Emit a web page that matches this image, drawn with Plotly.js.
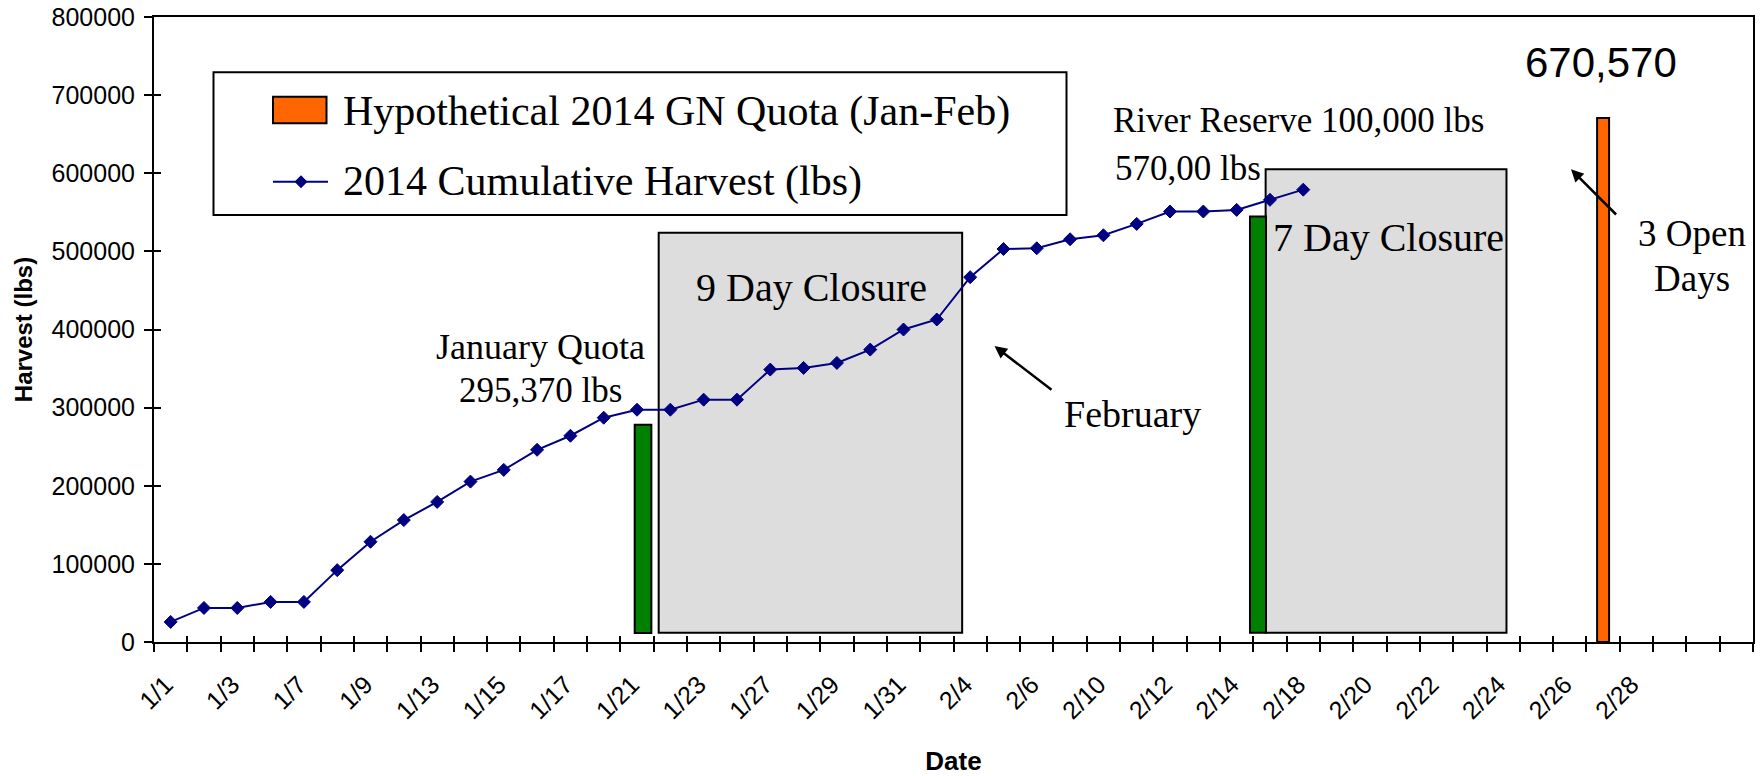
<!DOCTYPE html>
<html><head><meta charset="utf-8">
<script src="https://cdn.plot.ly/plotly-3.0.1.min.js"></script>
<style>html,body{margin:0;padding:0;background:#fff}#chart{width:1762px;height:776px}</style>
</head><body><div id="chart"></div>
<script>
// ---- data ----
const dates = ['1/1','1/2','1/3','1/6','1/7','1/8','1/9','1/10','1/13','1/14','1/15','1/16','1/17','1/20','1/21','1/22','1/23','1/24','1/27','1/28','1/29','1/30','1/31','2/3','2/4','2/5','2/6','2/7','2/10','2/11','2/12','2/13','2/14','2/17','2/18','2/19','2/20','2/21','2/22','2/23','2/24','2/25','2/26','2/27','2/28','3/1','3/2','3/3'];
const tickLabels = ['1/1','','1/3','','1/7','','1/9','','1/13','','1/15','','1/17','','1/21','','1/23','','1/27','','1/29','','1/31','','2/4','','2/6','','2/10','','2/12','','2/14','','2/18','','2/20','','2/22','','2/24','','2/26','','2/28','','','',''];
const harvestDates = dates.slice(0, 35);
const harvestValues = [25700,43600,43600,51300,51300,92000,128300,156100,179300,205300,220300,246000,264000,287100,297300,297300,310200,310200,348700,350800,357200,374300,400000,412800,467000,503000,504000,515500,520600,535200,551000,551000,553100,566000,579000];
const quotaDates = ['2/27'];
const quotaValues = [670570];
const seriesNames = ['Hypothetical 2014 GN Quota (Jan-Feb)', '2014 Cumulative Harvest (lbs)'];

// ---- geometry helpers (plot area in pixels) ----
const L = 154, R = 1753, T = 17, B = 642;
const W = R - L, H = B - T;
const px = X => (X - L) / W;
const py = Y => (B - Y) / H;

const NAVY = '#000080', ORANGE = '#FF6600', GREEN = '#008000', GRAY = '#DDDDDD';
const serif = 'Liberation Serif';
const sans = 'Liberation Sans';

const traces = [
  {type:'scatter', x: dates, y: dates.map(() => null), mode:'markers', marker:{opacity:0},
   hoverinfo:'skip', showlegend:false},
  {type:'scatter', x: dates, y: dates.map(() => null), mode:'markers', marker:{opacity:0},
   hoverinfo:'skip', showlegend:false, xaxis:'x2', yaxis:'y2'},
  {type:'bar', name: seriesNames[0], x: quotaDates, y: quotaValues, width: 0.36,
   marker:{color: ORANGE, line:{color:'#000', width:2}}, showlegend:false},
  {type:'scatter', name: seriesNames[1], x: harvestDates, y: harvestValues, mode:'lines+markers',
   line:{color: NAVY, width:2}, marker:{symbol:'diamond', size:10, color: NAVY, line:{color:NAVY, width:1}}, showlegend:false}
];

const txt = (text, X, Y, size, opts) => Object.assign({
  text, xref:'paper', yref:'paper', x: px(X), y: py(Y), xanchor:'center', yanchor:'middle',
  showarrow:false, font:{family: serif, size, color:'#000'}
}, opts || {});

const arrow = (hx, hy, tx, ty) => ({
  text:'', xref:'paper', yref:'paper', x: px(hx), y: py(hy), ax: tx - hx, ay: ty - hy,
  showarrow:true, arrowhead:2, arrowsize:1, arrowwidth:2.5, arrowcolor:'#000', standoff:0, startstandoff:0
});

const annotations = [
  txt('9 Day Closure', 811, 287, 40),
  txt('7 Day Closure', 1388, 237, 40),
  txt('January Quota', 540, 346.5, 36),
  txt('295,370 lbs', 540.5, 390, 35),
  txt('River Reserve 100,000 lbs', 1111, 120.5, 35, {xanchor:'left'}),
  txt('570,00 lbs', 1113, 168.8, 35, {xanchor:'left'}),
  txt('670,570', 1601, 62.6, 42, {font:{family: sans, size:42, color:'#000'}}),
  txt('3 Open', 1692, 233, 37),
  txt('Days', 1692, 278, 37),
  txt('February', 1132, 414, 38),
  arrow(994.5, 346, 1053, 391),
  arrow(1571, 169.3, 1617.6, 216),
  // legend texts
  txt(seriesNames[0], 340.6, 111.6, 42, {xanchor:'left'}),
  txt(seriesNames[1], 340.6, 181.6, 42, {xanchor:'left'})
];

const d = 6.5;
const shapes = [
  // closure boxes & quota markers (drawn objects)
  {type:'rect', xref:'x', yref:'y', x0:14.65, x1:23.76, y0:12000, y1:524000, fillcolor:GRAY, line:{color:'#000', width:2}, layer:'below'},
  {type:'rect', xref:'x', yref:'y', x0:13.93, x1:14.43, y0:11500, y1:278000, fillcolor:GREEN, line:{color:'#000', width:2}, layer:'below'},
  {type:'rect', xref:'x', yref:'y', x0:32.87, x1:40.1, y0:12000, y1:605200, fillcolor:GRAY, line:{color:'#000', width:2}, layer:'below'},
  {type:'rect', xref:'x', yref:'y', x0:32.40, x1:32.88, y0:12000, y1:544600, fillcolor:GREEN, line:{color:'#000', width:2}, layer:'below'},
  // legend box
  {type:'rect', xref:'paper', yref:'paper', x0:px(213.5), x1:px(1066.5), y0:py(215), y1:py(72.3), fillcolor:'#fff', line:{color:'#000', width:2}},
  {type:'rect', xref:'paper', yref:'paper', x0:px(273), x1:px(326.5), y0:py(123.3), y1:py(96.7), fillcolor:ORANGE, line:{color:'#000', width:2}},
  {type:'line', xref:'paper', yref:'paper', x0:px(273), x1:px(328), y0:py(181.7), y1:py(181.7), line:{color:NAVY, width:2}},
  {type:'path', xref:'paper', yref:'paper',
   path:`M ${px(301-d)},${py(181.7)} L ${px(301)},${py(181.7-d)} L ${px(301+d)},${py(181.7)} L ${px(301)},${py(181.7+d)} Z`,
   fillcolor:NAVY, line:{color:NAVY, width:0}}
];

const layout = {
  width:1762, height:776, paper_bgcolor:'#fff', plot_bgcolor:'#fff',
  margin:{l:L, r:1762-R, t:T, b:776-B, pad:0},
  showlegend:false, barmode:'overlay',
  xaxis:{type:'category', categoryorder:'array', categoryarray:dates, range:[-0.5,47.5],
    tickmode:'array', tickvals:dates, ticktext:tickLabels, tickson:'boundaries',
    ticks:'outside', ticklen:8, tickwidth:2, tickcolor:'#000', tickangle:-45,
    ticklabelstandoff:16, ticklabelshift:-5,
    tickfont:{family: sans, size: 25, color:'#000'},
    showline:true, linecolor:'#000', linewidth:2, mirror:true, showgrid:false, zeroline:false,
    title:{text:'Date', font:{family:sans, size:26, color:'#000', weight:'bold'}, standoff:42}},
  yaxis:{range:[0,800000], tick0:0, dtick:100000, tickformat:'d',
    ticks:'outside', ticklen:8, tickwidth:2, tickcolor:'#000', ticklabelstandoff:4,
    tickfont:{family:sans, size:25, color:'#000'},
    showline:true, linecolor:'#000', linewidth:2, mirror:true, showgrid:false, zeroline:false,
    title:{text:'Harvest (lbs)', font:{family:sans, size:24, color:'#000', weight:'bold'}, standoff:12}},
  xaxis2:{type:'category', categoryorder:'array', categoryarray:dates, range:[-0.5,47.5],
    overlaying:'x', anchor:'y2', side:'bottom',
    tickmode:'array', tickvals:dates, ticktext:dates.map(() => ''), tickson:'boundaries',
    ticks:'inside', ticklen:6, tickwidth:2, tickcolor:'#000', showticklabels:false,
    showline:false, showgrid:false, zeroline:false},
  yaxis2:{range:[0,800000], tick0:0, dtick:100000, overlaying:'y', anchor:'x2', side:'left',
    ticks:'inside', ticklen:7, tickwidth:2, tickcolor:'#000', showticklabels:false,
    showline:false, showgrid:false, zeroline:false},
  shapes, annotations
};

Plotly.newPlot('chart', traces, layout, {staticPlot:true, displayModeBar:false});
</script>
</body></html>
